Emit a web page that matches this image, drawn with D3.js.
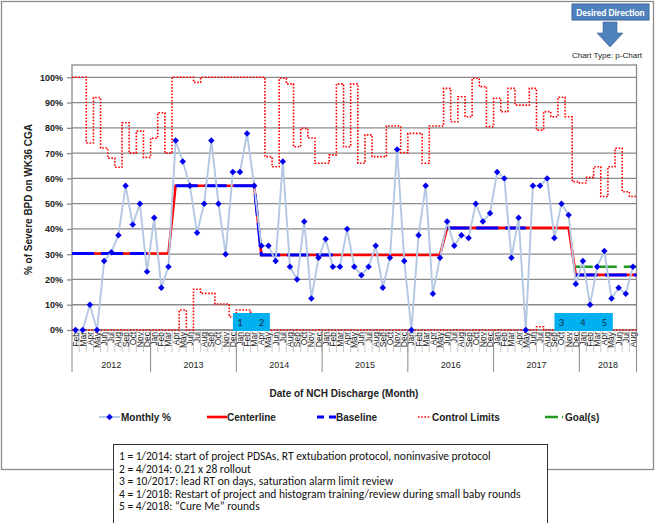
<!DOCTYPE html>
<html>
<head>
<meta charset="utf-8">
<script src="https://cdn.jsdelivr.net/npm/d3@7"></script>
<style>
  body { margin: 0; background: #fff; }
  svg { display: block; }
</style>
</head>
<body>
<div id="chart"></div>
<script>
// ---- data ----
const monthNames = ["Jan","Feb","Mar","Apr","May","Jun","Jul","Aug","Sep","Oct","Nov","Dec"];
const years = ["2012","2013","2014","2015","2016","2017","2018"];
const firstMonth = 1;   // Feb 2012
const lastMonth = 7;    // Aug 2018

const monthly = [0,0,10,0,27.3,30.8,37.5,57.1,41.7,50,
  23.1,44.4,16.7,25,75,66.7,57.1,38.5,50,75,
  50,30,62.5,62.5,77.8,57.1,33.3,33.3,27.3,66.7,
  25,20,42.9,12.5,28.6,36,25,25,40,25,
  21.7,25,33.3,16.7,28.6,71.4,27.3,0,37.5,57.1,
  14.3,28.6,42.9,33.3,37.5,36.4,50,42.9,46.2,62.5,
  60,28.6,44.4,0,57.1,57.1,60,36.4,50,45.5,
  18.2,27.3,10,25,31.3,12.5,16.7,14.3,25];

const centerline = [].concat(
  Array(14).fill(30.3), Array(12).fill(57.1), Array(26).fill(29.7),
  Array(18).fill(40.4), Array(9).fill(21.8));

const baseline = [].concat(
  Array(11).fill(30.3), Array(3).fill(null), Array(12).fill(57.1), Array(11).fill(29.7),
  Array(15).fill(null), Array(12).fill(40.4), Array(6).fill(null), Array(9).fill(21.8));

const goal = [].concat(Array(70).fill(null), Array(9).fill(25));

const ucl = [100,100,74,92,72,68,64.4,82,70,78.7,
  68.3,75.9,86,70,100,100,100,98,100,100,
  100,100,100,100,100,100,100,68.6,64.6,99.6,
  97.4,72.5,79.8,76,66,66,69.3,97.4,72.5,97.4,
  66,77.2,68.6,68.6,80.7,80.7,70.2,77.8,77.8,66,
  80.7,80.7,95.6,82.4,92.3,84.4,99.6,96.3,80.5,91.7,
  86.4,95.6,89,89,95.6,79.1,86.4,84.4,92.1,84.4,
  58.7,58.2,60.4,64.6,52.8,64.6,71.9,54.7,52.8];

const lcl = [0,0,0,0,0,0,0,0,0,0,
  0,0,0,0,0,7.9,0,16.1,14.5,14.5,
  10.3,10.3,5.3,7.9,7.9,0,0,0,0,0,
  0,0,0,0,0,0,0,0,0,0,
  0,0,0,0,0,0,0,0,0,0,
  0,0,0,0,0,0,0,0,0,0,
  0,0,0,0,0,1.3,0,0,0,0,
  0,0,0,0,0,0,0,0,0];

const yTicks = [0,10,20,30,40,50,60,70,80,90,100];

// interventions: label and month index
const notes = ["1","2","3","4","5"];
const noteMonths = [23,26,68,71,74];
const noteGroups = [[0,1],[2,3,4]];
const noteText = [
  "1 = 1/2014: start of project PDSAs, RT extubation protocol,  noninvasive protocol",
  "2 = 4/2014: 0.21 x 28 rollout",
  "3 = 10/2017:  lead RT on days, saturation alarm limit review",
  "4 = 1/2018: Restart of project and histogram training/review during  small baby rounds",
  "5 = 4/2018: \u201CCure Me\u201D rounds"
];

// month label list
const labels = [];
const yearOf = [];
years.forEach((yr, k) => {
  const m0 = k === 0 ? firstMonth : 0;
  const m1 = k === years.length - 1 ? lastMonth : 11;
  for (let m = m0; m <= m1; m++) { labels.push(monthNames[m]); yearOf.push(k); }
});

// ---- drawing ----
const W = 657, H = 523;
const arial = "'Liberation Sans', Arial, sans-serif";
const calibri = "Carlito, Lato, 'Open Sans', sans-serif";
const svg = d3.select("#chart").append("svg").attr("width", W).attr("height", H);

svg.append("rect")
  .attr("x", 1.5).attr("y", 1.5).attr("width", 652).attr("height", 468)
  .attr("fill", "#fff").attr("stroke", "#8c8c8c").attr("stroke-width", 1.3);

const pLeft = 72, pRight = 636.5, pTop = 65, pBottom = 330;
const x = d3.scaleBand().domain(d3.range(labels.length)).range([pLeft, pRight]);
const y = d3.scaleLinear().domain([0, 100]).range([pBottom, 77.3]);
const bw = x.bandwidth();
const cx = i => x(i) + bw / 2;

// gridlines
svg.append("g").selectAll("line").data(yTicks).join("line")
  .attr("x1", pLeft).attr("x2", pRight)
  .attr("y1", d => y(d)).attr("y2", d => y(d))
  .attr("stroke", "#8a8a8a").attr("stroke-width", 1.3);

svg.append("rect")
  .attr("x", pLeft).attr("y", pTop).attr("width", pRight - pLeft).attr("height", pBottom - pTop)
  .attr("fill", "none").attr("stroke", "#8a8a8a").attr("stroke-width", 1.3);

const yAxis = svg.append("g").attr("transform", `translate(${pLeft},0)`)
  .call(d3.axisLeft(y).tickValues(yTicks).tickFormat(d => d + "%").tickSize(5).tickPadding(4));
yAxis.select(".domain").remove();
yAxis.selectAll("line").attr("stroke", "#8a8a8a").attr("stroke-width", 1.3);
yAxis.selectAll("text").attr("font-family", arial).attr("font-size", 9)
  .attr("font-weight", "bold").attr("fill", "#222");

svg.append("text")
  .attr("transform", `translate(32,${(pTop + pBottom) / 2 + 2}) rotate(-90)`)
  .attr("text-anchor", "middle")
  .attr("font-family", arial).attr("font-size", 10).attr("font-weight", "bold").attr("fill", "#222")
  .text("% of Severe BPD on WK36 CGA");

// multi-level category axis
svg.append("g").selectAll("line").data(d3.range(1, labels.length)).join("line")
  .attr("x1", d => x(d)).attr("x2", d => x(d))
  .attr("y1", pBottom).attr("y2", pBottom + 22)
  .attr("stroke", "#b0b0b0").attr("stroke-width", 0.7);

svg.append("g").selectAll("text").data(labels).join("text")
  .attr("transform", (d, i) => `translate(${cx(i)},${pBottom + 2}) rotate(-90)`)
  .attr("dy", "0.35em").attr("text-anchor", "end")
  .attr("font-family", arial).attr("font-size", 8.5).attr("fill", "#222")
  .text(d => d);

const yearSpans = years.map((yr, k) => {
  const idx = d3.range(labels.length).filter(i => yearOf[i] === k);
  return { yr, x0: x(idx[0]), x1: x(idx[idx.length - 1]) + bw };
});
svg.append("g").selectAll("line").data([pLeft].concat(yearSpans.map(s => s.x1))).join("line")
  .attr("x1", d => d).attr("x2", d => d)
  .attr("y1", pBottom).attr("y2", pBottom + 42)
  .attr("stroke", "#8a8a8a").attr("stroke-width", 1);
svg.append("g").selectAll("text").data(yearSpans).join("text")
  .attr("x", d => (d.x0 + d.x1) / 2).attr("y", pBottom + 38)
  .attr("text-anchor", "middle")
  .attr("font-family", arial).attr("font-size", 9).attr("fill", "#222")
  .text(d => d.yr);

// series helpers
function pts(values, extend) {
  const out = [];
  values.forEach((v, i) => {
    if (v == null) return;
    if (extend && i === 0) out.push([pLeft, y(v)]);
    out.push([cx(i), y(v)]);
    if (extend && i === values.length - 1) out.push([pRight, y(v)]);
  });
  return out;
}
function segments(values) {
  const segs = [];
  let cur = null;
  values.forEach((v, i) => {
    if (v == null) { cur = null; return; }
    if (!cur) { cur = Array(values.length).fill(null); segs.push(cur); }
    cur[i] = v;
  });
  return segs;
}
const line = d3.line();
const stepLine = d3.line().curve(d3.curveStep);

// control limits
[ucl, lcl].forEach(vals => {
  svg.append("path").attr("d", stepLine(pts(vals, true)))
    .attr("fill", "none").attr("stroke", "#ff0000").attr("stroke-width", 1.6)
    .attr("stroke-dasharray", "1.6,1.6");
});

svg.append("path").attr("d", line(pts(centerline, true)))
  .attr("fill", "none").attr("stroke", "#ff0000").attr("stroke-width", 2.6);

segments(baseline).forEach(seg => {
  svg.append("path").attr("d", line(pts(seg, true)))
    .attr("fill", "none").attr("stroke", "#0000ff").attr("stroke-width", 3)
    .attr("stroke-dasharray", "22,7");
});

svg.append("path").attr("d", line(pts(goal, true)))
  .attr("fill", "none").attr("stroke", "#1e9a1e").attr("stroke-width", 2.5)
  .attr("stroke-dasharray", "17,7");

svg.append("path").attr("d", line(pts(monthly, false)))
  .attr("fill", "none").attr("stroke", "#b4c8e4").attr("stroke-width", 1.9);

const diamond = d3.symbol(d3.symbolSquare, 21);
svg.append("g").selectAll("path").data(monthly).join("path")
  .attr("d", diamond)
  .attr("transform", (d, i) => `translate(${cx(i)},${y(d)}) rotate(45)`)
  .attr("fill", "#0000ee");

// intervention boxes
noteGroups.forEach(g => {
  const x0 = cx(noteMonths[g[0]]) - 7;
  const x1 = cx(noteMonths[g[g.length - 1]]) + 8.5;
  svg.append("rect").attr("x", x0).attr("y", 313).attr("width", x1 - x0).attr("height", 18)
    .attr("fill", "#00b0f0");
});
svg.append("g").selectAll("text").data(notes).join("text")
  .attr("x", (d, i) => cx(noteMonths[i])).attr("y", 326)
  .attr("text-anchor", "middle")
  .attr("font-family", calibri).attr("font-size", 10.5).attr("fill", "#1a2a4a")
  .text(d => d);

// x title
svg.append("text").attr("x", 344).attr("y", 397).attr("text-anchor", "middle")
  .attr("font-family", arial).attr("font-size", 10).attr("font-weight", "bold").attr("fill", "#222")
  .text("Date of NCH Discharge (Month)");

// legend
const leg = svg.append("g").attr("font-family", arial).attr("font-size", 10)
  .attr("font-weight", "bold").attr("fill", "#222");
const ly = 417;
leg.append("line").attr("x1", 99).attr("x2", 120).attr("y1", ly).attr("y2", ly)
  .attr("stroke", "#b4c8e4").attr("stroke-width", 1.9);
leg.append("path").attr("d", diamond).attr("transform", `translate(109.5,${ly}) rotate(45)`).attr("fill", "#0000ee");
leg.append("text").attr("x", 121).attr("y", ly + 3.5).text("Monthly %");
leg.append("line").attr("x1", 207).attr("x2", 227).attr("y1", ly).attr("y2", ly)
  .attr("stroke", "#ff0000").attr("stroke-width", 2.6);
leg.append("text").attr("x", 227).attr("y", ly + 3.5).text("Centerline");
leg.append("line").attr("x1", 317).attr("x2", 337).attr("y1", ly).attr("y2", ly)
  .attr("stroke", "#0000ff").attr("stroke-width", 3).attr("stroke-dasharray", "7,5");
leg.append("text").attr("x", 336).attr("y", ly + 3.5).text("Baseline");
leg.append("line").attr("x1", 418).attr("x2", 431).attr("y1", ly).attr("y2", ly)
  .attr("stroke", "#ff0000").attr("stroke-width", 1.6).attr("stroke-dasharray", "1.6,1.6");
leg.append("text").attr("x", 432).attr("y", ly + 3.5).text("Control Limits");
leg.append("line").attr("x1", 545).attr("x2", 563).attr("y1", ly).attr("y2", ly)
  .attr("stroke", "#1e9a1e").attr("stroke-width", 2.5).attr("stroke-dasharray", "13,4,1,10");
leg.append("text").attr("x", 565).attr("y", ly + 3.5).text("Goal(s)");

// desired direction
svg.append("rect").attr("x", 572).attr("y", 4).attr("width", 77).attr("height", 16)
  .attr("fill", "#4f81bd").attr("stroke", "#3a6496");
svg.append("text").attr("x", 610.5).attr("y", 15.5).attr("text-anchor", "middle")
  .attr("font-family", calibri).attr("font-size", 9.5).attr("font-weight", "bold").attr("fill", "#fff")
  .text("Desired Direction");
svg.append("path")
  .attr("d", "M603,22 L617,22 L617,33 L623,33 L610,47 L597,33 L603,33 Z")
  .attr("fill", "#4f81bd").attr("stroke", "#3a6496").attr("stroke-width", 0.6);
svg.append("text").attr("x", 607).attr("y", 58).attr("text-anchor", "middle")
  .attr("font-family", arial).attr("font-size", 8).attr("fill", "#222")
  .text("Chart Type: p-Chart");

// intervention key
svg.append("rect").attr("x", 113.5).attr("y", 444.5).attr("width", 434).attr("height", 90)
  .attr("fill", "#fff").attr("stroke", "#333").attr("stroke-width", 1);
svg.append("g").selectAll("text").data(noteText).join("text")
  .attr("x", 119).attr("y", (d, i) => 460 + i * 12.6)
  .attr("font-family", calibri).attr("font-size", 11.5).attr("fill", "#111")
  .text(d => d);
</script>
</body>
</html>
